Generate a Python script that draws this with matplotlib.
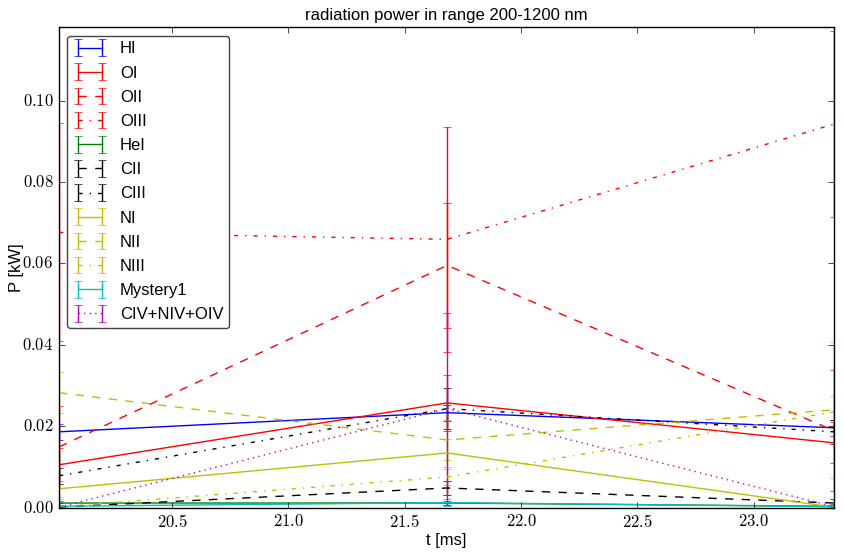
import matplotlib
matplotlib.use('Agg')
import matplotlib.pyplot as plt
from matplotlib.ticker import FuncFormatter, MultipleLocator

plt.style.use('classic')
plt.rcParams['font.family'] = ['Liberation Sans', 'DejaVu Sans']
plt.rcParams['mathtext.fontset'] = 'cm'

# time points [ms]
t = [20.014, 21.682, 23.344]

labels = ['HI', 'OI', 'OII', 'OIII', 'HeI', 'CII', 'CIII', 'NI', 'NII', 'NIII',
          'Mystery1', 'CIV+NIV+OIV']

# radiated power [kW] for each line group
HI = [0.0186, 0.0233, 0.0196]
OI = [0.0105, 0.0257, 0.0159]
OII = [0.0149, 0.0595, 0.0189]
OIII = [0.0676, 0.0659, 0.0942]
HeI = [0.0011, 0.0011, 0.0003]
CII = [0.0001, 0.0048, 0.0011]
CIII = [0.0078, 0.0243, 0.0186]
NI = [0.0046, 0.0134, 0.0001]
NII = [0.0282, 0.0166, 0.0240]
NIII = [0.0002, 0.0075, 0.0235]
Mystery1 = [0.0003, 0.0012, 0.0002]
CIV = [0.0001, 0.0243, 0.0002]

# error estimates [kW]
HI_err = [0.0020, 0.0020, 0.0020]
OI_err = [0.0040, 0.0068, 0.0050]
OII_err = [0.0100, 0.0153, 0.0148]
OIII_err = [0.0268, 0.0277, 0.0228]
HeI_err = [0.0005, 0.0005, 0.0005]
CII_err = [0.0010, 0.0018, 0.0010]
CIII_err = [0.0020, 0.0050, 0.0030]
NI_err = [0.0020, 0.0035, 0.0020]
NII_err = [0.0050, 0.0050, 0.0167]
NIII_err = [0.0020, 0.0020, 0.0040]
Mystery1_err = [0.0003, 0.0008, 0.0005]
CIV_err = [0.0010, 0.0236, 0.0020]

values = [HI, OI, OII, OIII, HeI, CII, CIII, NI, NII, NIII, Mystery1, CIV]
errors = [HI_err, OI_err, OII_err, OIII_err, HeI_err, CII_err, CIII_err,
          NI_err, NII_err, NIII_err, Mystery1_err, CIV_err]
colors = ['b', 'r', 'r', 'r', 'g', 'k', 'k', 'y', 'y', 'y', 'c', 'm']
styles = ['-', '-', '--', '-.', '-', '--', '-.', '-', '--', '-.', '-', ':']

fig = plt.figure(figsize=(8.44, 5.52), dpi=100, facecolor='white')
ax = fig.add_axes([0.070, 0.0806, 0.918, 0.870])

for lab, v, e, c, ls in zip(labels, values, errors, colors, styles):
    ax.errorbar(t, v, yerr=e, color=c, ls=ls, lw=1.0, capsize=3, label=lab)

ax.set_xlim(t[0], t[-1])
ax.set_ylim(0, 0.118)
ax.xaxis.set_major_locator(MultipleLocator(0.5))
ax.yaxis.set_major_locator(MultipleLocator(0.02))
ax.xaxis.set_major_formatter(FuncFormatter(lambda v, p: r'$%.1f$' % v))
ax.yaxis.set_major_formatter(FuncFormatter(lambda v, p: r'$%.2f$' % v))
ax.tick_params(labelsize=12)

ax.set_title('radiation power in range 200-1200 nm', fontsize=12)
ax.set_xlabel('t [ms]', fontsize=12, labelpad=2)
ax.set_ylabel('P [kW]', fontsize=12, labelpad=-1)

leg = ax.legend(loc='upper left', fontsize=12, labelspacing=0.55,
                borderpad=0.35, handlelength=2.0, fancybox=True)
leg.get_frame().set_edgecolor('#444444')

fig.savefig('out.png', dpi=100, facecolor='white')
